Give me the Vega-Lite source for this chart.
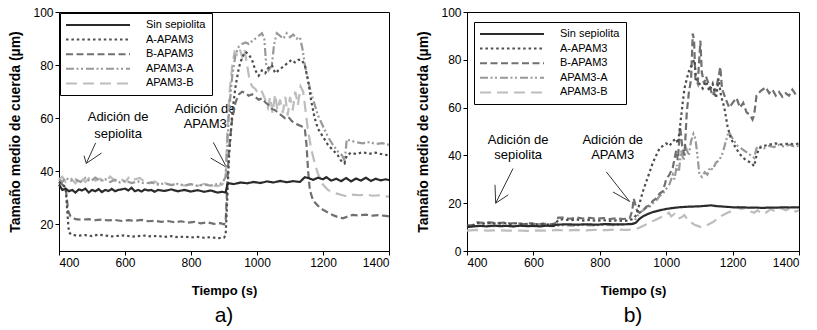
{
"$schema":"https://vega.github.io/schema/vega-lite/v6.json",
"padding":{"left":8,"top":5,"right":0,"bottom":0},
"spacing":22,
"datasets":{
"a":[
{"s":"APAM3-B","t":400,"v":37},{"s":"APAM3-B","t":410,"v":38},{"s":"APAM3-B","t":420,"v":36},{"s":"APAM3-B","t":435,"v":37.5},{"s":"APAM3-B","t":450,"v":35.5},{"s":"APAM3-B","t":465,"v":37.8},{"s":"APAM3-B","t":480,"v":36},{"s":"APAM3-B","t":495,"v":38},{"s":"APAM3-B","t":510,"v":36.5},{"s":"APAM3-B","t":525,"v":37.2},{"s":"APAM3-B","t":540,"v":36},{"s":"APAM3-B","t":555,"v":38},{"s":"APAM3-B","t":570,"v":36.4},{"s":"APAM3-B","t":585,"v":37.5},{"s":"APAM3-B","t":600,"v":36},{"s":"APAM3-B","t":615,"v":38.2},{"s":"APAM3-B","t":630,"v":37},{"s":"APAM3-B","t":645,"v":37.5},{"s":"APAM3-B","t":660,"v":36},{"s":"APAM3-B","t":675,"v":35.5},{"s":"APAM3-B","t":690,"v":36.2},{"s":"APAM3-B","t":705,"v":35},{"s":"APAM3-B","t":720,"v":35.6},{"s":"APAM3-B","t":740,"v":34.8},{"s":"APAM3-B","t":760,"v":35.4},{"s":"APAM3-B","t":780,"v":34.6},{"s":"APAM3-B","t":800,"v":35.2},{"s":"APAM3-B","t":820,"v":34.5},{"s":"APAM3-B","t":840,"v":35.3},{"s":"APAM3-B","t":860,"v":34.8},{"s":"APAM3-B","t":880,"v":34.4},{"s":"APAM3-B","t":895,"v":35},{"s":"APAM3-B","t":905,"v":37},{"s":"APAM3-B","t":910,"v":55},{"s":"APAM3-B","t":917,"v":70},{"s":"APAM3-B","t":925,"v":80},{"s":"APAM3-B","t":932,"v":85},{"s":"APAM3-B","t":940,"v":84},{"s":"APAM3-B","t":948,"v":86},{"s":"APAM3-B","t":955,"v":83},{"s":"APAM3-B","t":962,"v":86},{"s":"APAM3-B","t":970,"v":80},{"s":"APAM3-B","t":978,"v":74},{"s":"APAM3-B","t":985,"v":72},{"s":"APAM3-B","t":995,"v":71},{"s":"APAM3-B","t":1005,"v":69},{"s":"APAM3-B","t":1015,"v":70},{"s":"APAM3-B","t":1025,"v":67},{"s":"APAM3-B","t":1033,"v":64},{"s":"APAM3-B","t":1040,"v":68},{"s":"APAM3-B","t":1047,"v":62},{"s":"APAM3-B","t":1055,"v":69},{"s":"APAM3-B","t":1062,"v":63},{"s":"APAM3-B","t":1070,"v":67},{"s":"APAM3-B","t":1078,"v":62},{"s":"APAM3-B","t":1086,"v":68},{"s":"APAM3-B","t":1093,"v":61},{"s":"APAM3-B","t":1100,"v":68},{"s":"APAM3-B","t":1108,"v":63},{"s":"APAM3-B","t":1116,"v":70},{"s":"APAM3-B","t":1124,"v":65},{"s":"APAM3-B","t":1132,"v":72},{"s":"APAM3-B","t":1140,"v":70},{"s":"APAM3-B","t":1148,"v":62},{"s":"APAM3-B","t":1155,"v":55},{"s":"APAM3-B","t":1165,"v":48},{"s":"APAM3-B","t":1175,"v":43},{"s":"APAM3-B","t":1185,"v":39},{"s":"APAM3-B","t":1200,"v":35},{"s":"APAM3-B","t":1215,"v":33},{"s":"APAM3-B","t":1230,"v":32},{"s":"APAM3-B","t":1245,"v":31.5},{"s":"APAM3-B","t":1260,"v":31},{"s":"APAM3-B","t":1275,"v":30.5},{"s":"APAM3-B","t":1290,"v":31.2},{"s":"APAM3-B","t":1310,"v":31},{"s":"APAM3-B","t":1330,"v":31.3},{"s":"APAM3-B","t":1350,"v":30.8},{"s":"APAM3-B","t":1370,"v":31},{"s":"APAM3-B","t":1390,"v":30.6},{"s":"APAM3-B","t":1400,"v":30.5},
{"s":"APAM3-A","t":400,"v":37},{"s":"APAM3-A","t":410,"v":36},{"s":"APAM3-A","t":420,"v":37.5},{"s":"APAM3-A","t":435,"v":36.5},{"s":"APAM3-A","t":450,"v":37},{"s":"APAM3-A","t":465,"v":36},{"s":"APAM3-A","t":480,"v":37.5},{"s":"APAM3-A","t":495,"v":36.2},{"s":"APAM3-A","t":510,"v":37.6},{"s":"APAM3-A","t":525,"v":36.4},{"s":"APAM3-A","t":540,"v":37},{"s":"APAM3-A","t":555,"v":36},{"s":"APAM3-A","t":570,"v":36.8},{"s":"APAM3-A","t":585,"v":35.8},{"s":"APAM3-A","t":600,"v":36.5},{"s":"APAM3-A","t":620,"v":35.6},{"s":"APAM3-A","t":640,"v":36.2},{"s":"APAM3-A","t":660,"v":35.4},{"s":"APAM3-A","t":680,"v":35.8},{"s":"APAM3-A","t":700,"v":35},{"s":"APAM3-A","t":720,"v":35.5},{"s":"APAM3-A","t":740,"v":34.8},{"s":"APAM3-A","t":760,"v":35.3},{"s":"APAM3-A","t":780,"v":34.6},{"s":"APAM3-A","t":800,"v":35.2},{"s":"APAM3-A","t":820,"v":34.5},{"s":"APAM3-A","t":840,"v":35},{"s":"APAM3-A","t":860,"v":34.6},{"s":"APAM3-A","t":880,"v":35.2},{"s":"APAM3-A","t":895,"v":35.5},{"s":"APAM3-A","t":905,"v":38},{"s":"APAM3-A","t":910,"v":50},{"s":"APAM3-A","t":915,"v":62},{"s":"APAM3-A","t":925,"v":76},{"s":"APAM3-A","t":935,"v":84},{"s":"APAM3-A","t":945,"v":87},{"s":"APAM3-A","t":955,"v":88},{"s":"APAM3-A","t":965,"v":88.5},{"s":"APAM3-A","t":975,"v":88},{"s":"APAM3-A","t":985,"v":89},{"s":"APAM3-A","t":995,"v":90},{"s":"APAM3-A","t":1005,"v":91},{"s":"APAM3-A","t":1015,"v":92},{"s":"APAM3-A","t":1022,"v":90},{"s":"APAM3-A","t":1028,"v":80},{"s":"APAM3-A","t":1035,"v":78},{"s":"APAM3-A","t":1045,"v":80},{"s":"APAM3-A","t":1052,"v":88},{"s":"APAM3-A","t":1060,"v":92},{"s":"APAM3-A","t":1070,"v":91},{"s":"APAM3-A","t":1080,"v":90},{"s":"APAM3-A","t":1090,"v":92},{"s":"APAM3-A","t":1100,"v":90.5},{"s":"APAM3-A","t":1110,"v":91.5},{"s":"APAM3-A","t":1120,"v":90},{"s":"APAM3-A","t":1130,"v":90.5},{"s":"APAM3-A","t":1138,"v":86},{"s":"APAM3-A","t":1145,"v":80},{"s":"APAM3-A","t":1155,"v":74},{"s":"APAM3-A","t":1165,"v":69},{"s":"APAM3-A","t":1175,"v":65},{"s":"APAM3-A","t":1185,"v":61},{"s":"APAM3-A","t":1200,"v":57},{"s":"APAM3-A","t":1215,"v":53},{"s":"APAM3-A","t":1230,"v":50},{"s":"APAM3-A","t":1245,"v":47.5},{"s":"APAM3-A","t":1258,"v":46},{"s":"APAM3-A","t":1266,"v":44},{"s":"APAM3-A","t":1272,"v":52},{"s":"APAM3-A","t":1285,"v":51.5},{"s":"APAM3-A","t":1300,"v":51},{"s":"APAM3-A","t":1320,"v":50.5},{"s":"APAM3-A","t":1340,"v":51},{"s":"APAM3-A","t":1360,"v":50.3},{"s":"APAM3-A","t":1380,"v":50.6},{"s":"APAM3-A","t":1400,"v":50},
{"s":"B-APAM3","t":400,"v":36},{"s":"B-APAM3","t":410,"v":35},{"s":"B-APAM3","t":420,"v":34},{"s":"B-APAM3","t":428,"v":25},{"s":"B-APAM3","t":435,"v":23},{"s":"B-APAM3","t":450,"v":22},{"s":"B-APAM3","t":470,"v":21.8},{"s":"B-APAM3","t":490,"v":22},{"s":"B-APAM3","t":510,"v":21.6},{"s":"B-APAM3","t":530,"v":21.8},{"s":"B-APAM3","t":550,"v":21.5},{"s":"B-APAM3","t":570,"v":21.7},{"s":"B-APAM3","t":590,"v":21.3},{"s":"B-APAM3","t":610,"v":21.6},{"s":"B-APAM3","t":630,"v":21.4},{"s":"B-APAM3","t":650,"v":21.7},{"s":"B-APAM3","t":670,"v":21.2},{"s":"B-APAM3","t":690,"v":21.4},{"s":"B-APAM3","t":710,"v":21},{"s":"B-APAM3","t":730,"v":21.3},{"s":"B-APAM3","t":750,"v":20.8},{"s":"B-APAM3","t":770,"v":21.2},{"s":"B-APAM3","t":790,"v":20.7},{"s":"B-APAM3","t":810,"v":21},{"s":"B-APAM3","t":830,"v":20.4},{"s":"B-APAM3","t":850,"v":20.8},{"s":"B-APAM3","t":870,"v":20.2},{"s":"B-APAM3","t":890,"v":20.5},{"s":"B-APAM3","t":900,"v":20},{"s":"B-APAM3","t":905,"v":21},{"s":"B-APAM3","t":910,"v":35},{"s":"B-APAM3","t":915,"v":48},{"s":"B-APAM3","t":925,"v":60},{"s":"B-APAM3","t":935,"v":66},{"s":"B-APAM3","t":945,"v":69},{"s":"B-APAM3","t":955,"v":70},{"s":"B-APAM3","t":965,"v":69.5},{"s":"B-APAM3","t":975,"v":68.5},{"s":"B-APAM3","t":985,"v":69},{"s":"B-APAM3","t":995,"v":68},{"s":"B-APAM3","t":1005,"v":67},{"s":"B-APAM3","t":1015,"v":67.5},{"s":"B-APAM3","t":1025,"v":66},{"s":"B-APAM3","t":1035,"v":65},{"s":"B-APAM3","t":1045,"v":63.5},{"s":"B-APAM3","t":1055,"v":63},{"s":"B-APAM3","t":1065,"v":62},{"s":"B-APAM3","t":1075,"v":61},{"s":"B-APAM3","t":1085,"v":60},{"s":"B-APAM3","t":1095,"v":60.5},{"s":"B-APAM3","t":1105,"v":59},{"s":"B-APAM3","t":1115,"v":58},{"s":"B-APAM3","t":1125,"v":57.5},{"s":"B-APAM3","t":1135,"v":57},{"s":"B-APAM3","t":1145,"v":56},{"s":"B-APAM3","t":1150,"v":50},{"s":"B-APAM3","t":1155,"v":40},{"s":"B-APAM3","t":1160,"v":33},{"s":"B-APAM3","t":1170,"v":29},{"s":"B-APAM3","t":1185,"v":27},{"s":"B-APAM3","t":1200,"v":25.5},{"s":"B-APAM3","t":1215,"v":24.5},{"s":"B-APAM3","t":1230,"v":23.5},{"s":"B-APAM3","t":1245,"v":22.8},{"s":"B-APAM3","t":1260,"v":22.3},{"s":"B-APAM3","t":1275,"v":23},{"s":"B-APAM3","t":1290,"v":23.6},{"s":"B-APAM3","t":1310,"v":23.4},{"s":"B-APAM3","t":1330,"v":23.7},{"s":"B-APAM3","t":1350,"v":23.3},{"s":"B-APAM3","t":1370,"v":23.5},{"s":"B-APAM3","t":1390,"v":23.2},{"s":"B-APAM3","t":1400,"v":23},
{"s":"A-APAM3","t":400,"v":36},{"s":"A-APAM3","t":410,"v":35},{"s":"A-APAM3","t":420,"v":34},{"s":"A-APAM3","t":425,"v":25},{"s":"A-APAM3","t":430,"v":17},{"s":"A-APAM3","t":440,"v":16},{"s":"A-APAM3","t":460,"v":15.8},{"s":"A-APAM3","t":480,"v":16},{"s":"A-APAM3","t":500,"v":15.6},{"s":"A-APAM3","t":520,"v":16.2},{"s":"A-APAM3","t":540,"v":15.8},{"s":"A-APAM3","t":560,"v":15.5},{"s":"A-APAM3","t":580,"v":15.7},{"s":"A-APAM3","t":600,"v":15.9},{"s":"A-APAM3","t":620,"v":15.4},{"s":"A-APAM3","t":640,"v":15.6},{"s":"A-APAM3","t":660,"v":15.8},{"s":"A-APAM3","t":680,"v":15.5},{"s":"A-APAM3","t":700,"v":15.7},{"s":"A-APAM3","t":720,"v":15.3},{"s":"A-APAM3","t":740,"v":15.6},{"s":"A-APAM3","t":760,"v":15.2},{"s":"A-APAM3","t":780,"v":15.4},{"s":"A-APAM3","t":800,"v":15.1},{"s":"A-APAM3","t":820,"v":15.3},{"s":"A-APAM3","t":840,"v":15},{"s":"A-APAM3","t":860,"v":15.2},{"s":"A-APAM3","t":880,"v":14.8},{"s":"A-APAM3","t":900,"v":15},{"s":"A-APAM3","t":905,"v":16},{"s":"A-APAM3","t":910,"v":30},{"s":"A-APAM3","t":915,"v":45},{"s":"A-APAM3","t":925,"v":62},{"s":"A-APAM3","t":935,"v":72},{"s":"A-APAM3","t":945,"v":79},{"s":"A-APAM3","t":955,"v":83},{"s":"A-APAM3","t":965,"v":85},{"s":"A-APAM3","t":975,"v":84},{"s":"A-APAM3","t":985,"v":82},{"s":"A-APAM3","t":995,"v":78},{"s":"A-APAM3","t":1005,"v":76},{"s":"A-APAM3","t":1015,"v":78},{"s":"A-APAM3","t":1025,"v":77},{"s":"A-APAM3","t":1035,"v":79},{"s":"A-APAM3","t":1045,"v":80},{"s":"A-APAM3","t":1055,"v":77},{"s":"A-APAM3","t":1065,"v":78},{"s":"A-APAM3","t":1075,"v":79},{"s":"A-APAM3","t":1085,"v":80},{"s":"A-APAM3","t":1095,"v":81},{"s":"A-APAM3","t":1105,"v":82},{"s":"A-APAM3","t":1115,"v":81},{"s":"A-APAM3","t":1125,"v":82},{"s":"A-APAM3","t":1135,"v":82},{"s":"A-APAM3","t":1145,"v":80},{"s":"A-APAM3","t":1155,"v":74},{"s":"A-APAM3","t":1165,"v":66},{"s":"A-APAM3","t":1175,"v":60},{"s":"A-APAM3","t":1185,"v":56},{"s":"A-APAM3","t":1200,"v":53},{"s":"A-APAM3","t":1215,"v":50},{"s":"A-APAM3","t":1230,"v":48},{"s":"A-APAM3","t":1245,"v":46},{"s":"A-APAM3","t":1255,"v":44},{"s":"A-APAM3","t":1265,"v":43},{"s":"A-APAM3","t":1272,"v":46},{"s":"A-APAM3","t":1285,"v":47},{"s":"A-APAM3","t":1300,"v":46.5},{"s":"A-APAM3","t":1320,"v":47.2},{"s":"A-APAM3","t":1340,"v":46.6},{"s":"A-APAM3","t":1360,"v":47},{"s":"A-APAM3","t":1380,"v":46.4},{"s":"A-APAM3","t":1400,"v":46},
{"s":"Sin sepiolita","t":400,"v":35},{"s":"Sin sepiolita","t":405,"v":34},{"s":"Sin sepiolita","t":410,"v":33},{"s":"Sin sepiolita","t":420,"v":33.5},{"s":"Sin sepiolita","t":430,"v":32.5},{"s":"Sin sepiolita","t":440,"v":33},{"s":"Sin sepiolita","t":450,"v":32},{"s":"Sin sepiolita","t":460,"v":33.2},{"s":"Sin sepiolita","t":470,"v":32.8},{"s":"Sin sepiolita","t":480,"v":33.5},{"s":"Sin sepiolita","t":490,"v":32},{"s":"Sin sepiolita","t":500,"v":33},{"s":"Sin sepiolita","t":510,"v":32.5},{"s":"Sin sepiolita","t":520,"v":33.3},{"s":"Sin sepiolita","t":530,"v":32.2},{"s":"Sin sepiolita","t":540,"v":33},{"s":"Sin sepiolita","t":550,"v":32.6},{"s":"Sin sepiolita","t":560,"v":33.4},{"s":"Sin sepiolita","t":570,"v":32.5},{"s":"Sin sepiolita","t":580,"v":33},{"s":"Sin sepiolita","t":590,"v":33.2},{"s":"Sin sepiolita","t":600,"v":33.5},{"s":"Sin sepiolita","t":610,"v":32.8},{"s":"Sin sepiolita","t":620,"v":33.8},{"s":"Sin sepiolita","t":630,"v":32.5},{"s":"Sin sepiolita","t":640,"v":33},{"s":"Sin sepiolita","t":650,"v":32.4},{"s":"Sin sepiolita","t":660,"v":33.2},{"s":"Sin sepiolita","t":670,"v":32.8},{"s":"Sin sepiolita","t":680,"v":33},{"s":"Sin sepiolita","t":690,"v":32.3},{"s":"Sin sepiolita","t":700,"v":33},{"s":"Sin sepiolita","t":720,"v":32.6},{"s":"Sin sepiolita","t":740,"v":33.2},{"s":"Sin sepiolita","t":760,"v":32.5},{"s":"Sin sepiolita","t":780,"v":33},{"s":"Sin sepiolita","t":800,"v":32.4},{"s":"Sin sepiolita","t":820,"v":32.9},{"s":"Sin sepiolita","t":840,"v":32.3},{"s":"Sin sepiolita","t":860,"v":32.8},{"s":"Sin sepiolita","t":880,"v":32},{"s":"Sin sepiolita","t":895,"v":32.3},{"s":"Sin sepiolita","t":905,"v":32},{"s":"Sin sepiolita","t":910,"v":35},{"s":"Sin sepiolita","t":915,"v":35.5},{"s":"Sin sepiolita","t":930,"v":35.2},{"s":"Sin sepiolita","t":950,"v":35.8},{"s":"Sin sepiolita","t":970,"v":35.5},{"s":"Sin sepiolita","t":990,"v":36},{"s":"Sin sepiolita","t":1010,"v":35.6},{"s":"Sin sepiolita","t":1030,"v":36.2},{"s":"Sin sepiolita","t":1050,"v":35.8},{"s":"Sin sepiolita","t":1070,"v":36.4},{"s":"Sin sepiolita","t":1090,"v":35.9},{"s":"Sin sepiolita","t":1110,"v":36.3},{"s":"Sin sepiolita","t":1130,"v":36},{"s":"Sin sepiolita","t":1145,"v":37.8},{"s":"Sin sepiolita","t":1155,"v":37.5},{"s":"Sin sepiolita","t":1170,"v":36.8},{"s":"Sin sepiolita","t":1185,"v":37.6},{"s":"Sin sepiolita","t":1200,"v":37},{"s":"Sin sepiolita","t":1210,"v":37.8},{"s":"Sin sepiolita","t":1225,"v":36.5},{"s":"Sin sepiolita","t":1240,"v":37.2},{"s":"Sin sepiolita","t":1255,"v":36.3},{"s":"Sin sepiolita","t":1270,"v":37.5},{"s":"Sin sepiolita","t":1285,"v":36.2},{"s":"Sin sepiolita","t":1300,"v":37.3},{"s":"Sin sepiolita","t":1315,"v":36.5},{"s":"Sin sepiolita","t":1330,"v":37.6},{"s":"Sin sepiolita","t":1345,"v":36.4},{"s":"Sin sepiolita","t":1360,"v":37.2},{"s":"Sin sepiolita","t":1375,"v":36.6},{"s":"Sin sepiolita","t":1390,"v":37},{"s":"Sin sepiolita","t":1400,"v":36.7}
],
"b":[
{"s":"APAM3-B","t":400,"v":8.5},{"s":"APAM3-B","t":430,"v":8.8},{"s":"APAM3-B","t":460,"v":8.5},{"s":"APAM3-B","t":490,"v":8.7},{"s":"APAM3-B","t":520,"v":8.5},{"s":"APAM3-B","t":550,"v":8.6},{"s":"APAM3-B","t":580,"v":8.4},{"s":"APAM3-B","t":610,"v":8.6},{"s":"APAM3-B","t":640,"v":8.5},{"s":"APAM3-B","t":670,"v":8.8},{"s":"APAM3-B","t":700,"v":8.6},{"s":"APAM3-B","t":730,"v":8.8},{"s":"APAM3-B","t":760,"v":8.6},{"s":"APAM3-B","t":790,"v":8.9},{"s":"APAM3-B","t":820,"v":8.7},{"s":"APAM3-B","t":850,"v":9},{"s":"APAM3-B","t":880,"v":8.8},{"s":"APAM3-B","t":900,"v":9},{"s":"APAM3-B","t":915,"v":9.5},{"s":"APAM3-B","t":930,"v":10.5},{"s":"APAM3-B","t":945,"v":11.5},{"s":"APAM3-B","t":960,"v":12.5},{"s":"APAM3-B","t":975,"v":13.5},{"s":"APAM3-B","t":990,"v":14.5},{"s":"APAM3-B","t":1000,"v":15},{"s":"APAM3-B","t":1008,"v":16},{"s":"APAM3-B","t":1015,"v":14.5},{"s":"APAM3-B","t":1025,"v":15.5},{"s":"APAM3-B","t":1035,"v":13.5},{"s":"APAM3-B","t":1045,"v":14},{"s":"APAM3-B","t":1055,"v":15},{"s":"APAM3-B","t":1065,"v":13},{"s":"APAM3-B","t":1075,"v":12},{"s":"APAM3-B","t":1085,"v":11},{"s":"APAM3-B","t":1095,"v":10.5},{"s":"APAM3-B","t":1105,"v":10},{"s":"APAM3-B","t":1115,"v":10.5},{"s":"APAM3-B","t":1125,"v":11},{"s":"APAM3-B","t":1140,"v":12},{"s":"APAM3-B","t":1155,"v":13.5},{"s":"APAM3-B","t":1170,"v":15},{"s":"APAM3-B","t":1185,"v":16},{"s":"APAM3-B","t":1200,"v":17},{"s":"APAM3-B","t":1215,"v":18.5},{"s":"APAM3-B","t":1225,"v":17.5},{"s":"APAM3-B","t":1240,"v":18},{"s":"APAM3-B","t":1255,"v":16.5},{"s":"APAM3-B","t":1265,"v":16},{"s":"APAM3-B","t":1275,"v":17},{"s":"APAM3-B","t":1290,"v":15.5},{"s":"APAM3-B","t":1300,"v":16},{"s":"APAM3-B","t":1315,"v":17.5},{"s":"APAM3-B","t":1330,"v":16.5},{"s":"APAM3-B","t":1345,"v":18},{"s":"APAM3-B","t":1360,"v":17},{"s":"APAM3-B","t":1375,"v":18},{"s":"APAM3-B","t":1390,"v":16.5},{"s":"APAM3-B","t":1400,"v":17},
{"s":"APAM3-A","t":400,"v":10},{"s":"APAM3-A","t":420,"v":10.5},{"s":"APAM3-A","t":450,"v":10.8},{"s":"APAM3-A","t":480,"v":10.4},{"s":"APAM3-A","t":510,"v":10.7},{"s":"APAM3-A","t":540,"v":10.3},{"s":"APAM3-A","t":570,"v":10.6},{"s":"APAM3-A","t":600,"v":10.4},{"s":"APAM3-A","t":630,"v":10.6},{"s":"APAM3-A","t":660,"v":10.4},{"s":"APAM3-A","t":690,"v":10.8},{"s":"APAM3-A","t":720,"v":10.6},{"s":"APAM3-A","t":750,"v":10.9},{"s":"APAM3-A","t":780,"v":10.7},{"s":"APAM3-A","t":810,"v":11},{"s":"APAM3-A","t":840,"v":10.8},{"s":"APAM3-A","t":870,"v":11.1},{"s":"APAM3-A","t":900,"v":11.5},{"s":"APAM3-A","t":910,"v":14},{"s":"APAM3-A","t":920,"v":16},{"s":"APAM3-A","t":930,"v":17},{"s":"APAM3-A","t":940,"v":18},{"s":"APAM3-A","t":950,"v":18.5},{"s":"APAM3-A","t":960,"v":20},{"s":"APAM3-A","t":970,"v":21},{"s":"APAM3-A","t":980,"v":23},{"s":"APAM3-A","t":990,"v":24},{"s":"APAM3-A","t":1000,"v":26},{"s":"APAM3-A","t":1010,"v":28},{"s":"APAM3-A","t":1020,"v":32},{"s":"APAM3-A","t":1025,"v":30},{"s":"APAM3-A","t":1032,"v":36},{"s":"APAM3-A","t":1038,"v":33},{"s":"APAM3-A","t":1045,"v":42},{"s":"APAM3-A","t":1052,"v":38},{"s":"APAM3-A","t":1060,"v":43},{"s":"APAM3-A","t":1068,"v":40},{"s":"APAM3-A","t":1075,"v":46},{"s":"APAM3-A","t":1082,"v":49},{"s":"APAM3-A","t":1088,"v":47},{"s":"APAM3-A","t":1094,"v":40},{"s":"APAM3-A","t":1100,"v":32},{"s":"APAM3-A","t":1108,"v":31},{"s":"APAM3-A","t":1116,"v":33},{"s":"APAM3-A","t":1124,"v":32},{"s":"APAM3-A","t":1132,"v":35},{"s":"APAM3-A","t":1140,"v":34},{"s":"APAM3-A","t":1150,"v":37},{"s":"APAM3-A","t":1160,"v":38},{"s":"APAM3-A","t":1170,"v":41},{"s":"APAM3-A","t":1180,"v":46},{"s":"APAM3-A","t":1188,"v":50},{"s":"APAM3-A","t":1196,"v":48},{"s":"APAM3-A","t":1205,"v":46},{"s":"APAM3-A","t":1215,"v":44},{"s":"APAM3-A","t":1225,"v":43},{"s":"APAM3-A","t":1235,"v":42},{"s":"APAM3-A","t":1245,"v":41},{"s":"APAM3-A","t":1255,"v":40},{"s":"APAM3-A","t":1265,"v":39},{"s":"APAM3-A","t":1272,"v":43},{"s":"APAM3-A","t":1280,"v":44},{"s":"APAM3-A","t":1295,"v":43},{"s":"APAM3-A","t":1310,"v":44},{"s":"APAM3-A","t":1325,"v":43.5},{"s":"APAM3-A","t":1340,"v":44.5},{"s":"APAM3-A","t":1355,"v":43.6},{"s":"APAM3-A","t":1370,"v":44.5},{"s":"APAM3-A","t":1385,"v":43.8},{"s":"APAM3-A","t":1400,"v":44},
{"s":"B-APAM3","t":400,"v":10.5},{"s":"B-APAM3","t":420,"v":11},{"s":"B-APAM3","t":430,"v":12},{"s":"B-APAM3","t":450,"v":11.8},{"s":"B-APAM3","t":470,"v":12},{"s":"B-APAM3","t":490,"v":11.6},{"s":"B-APAM3","t":510,"v":11.9},{"s":"B-APAM3","t":530,"v":11.5},{"s":"B-APAM3","t":550,"v":11.7},{"s":"B-APAM3","t":570,"v":11.3},{"s":"B-APAM3","t":590,"v":11.6},{"s":"B-APAM3","t":610,"v":11.2},{"s":"B-APAM3","t":630,"v":11.4},{"s":"B-APAM3","t":650,"v":11.2},{"s":"B-APAM3","t":665,"v":11.5},{"s":"B-APAM3","t":675,"v":14},{"s":"B-APAM3","t":690,"v":14},{"s":"B-APAM3","t":710,"v":13.5},{"s":"B-APAM3","t":730,"v":14},{"s":"B-APAM3","t":750,"v":13.6},{"s":"B-APAM3","t":770,"v":13.9},{"s":"B-APAM3","t":790,"v":13.5},{"s":"B-APAM3","t":810,"v":13.8},{"s":"B-APAM3","t":830,"v":13.4},{"s":"B-APAM3","t":850,"v":13.7},{"s":"B-APAM3","t":870,"v":13.4},{"s":"B-APAM3","t":890,"v":13.6},{"s":"B-APAM3","t":898,"v":17},{"s":"B-APAM3","t":902,"v":22},{"s":"B-APAM3","t":906,"v":20},{"s":"B-APAM3","t":912,"v":17},{"s":"B-APAM3","t":920,"v":16},{"s":"B-APAM3","t":930,"v":17},{"s":"B-APAM3","t":940,"v":18.5},{"s":"B-APAM3","t":950,"v":19},{"s":"B-APAM3","t":960,"v":21},{"s":"B-APAM3","t":970,"v":22},{"s":"B-APAM3","t":980,"v":24},{"s":"B-APAM3","t":990,"v":25},{"s":"B-APAM3","t":1000,"v":30},{"s":"B-APAM3","t":1010,"v":32},{"s":"B-APAM3","t":1020,"v":35},{"s":"B-APAM3","t":1030,"v":42},{"s":"B-APAM3","t":1035,"v":38},{"s":"B-APAM3","t":1042,"v":52},{"s":"B-APAM3","t":1048,"v":44},{"s":"B-APAM3","t":1055,"v":40},{"s":"B-APAM3","t":1062,"v":58},{"s":"B-APAM3","t":1068,"v":66},{"s":"B-APAM3","t":1075,"v":72},{"s":"B-APAM3","t":1080,"v":91},{"s":"B-APAM3","t":1084,"v":88},{"s":"B-APAM3","t":1088,"v":72},{"s":"B-APAM3","t":1095,"v":70},{"s":"B-APAM3","t":1103,"v":88},{"s":"B-APAM3","t":1107,"v":75},{"s":"B-APAM3","t":1114,"v":70},{"s":"B-APAM3","t":1120,"v":73},{"s":"B-APAM3","t":1130,"v":69},{"s":"B-APAM3","t":1140,"v":65},{"s":"B-APAM3","t":1150,"v":68},{"s":"B-APAM3","t":1158,"v":73},{"s":"B-APAM3","t":1163,"v":77},{"s":"B-APAM3","t":1168,"v":68},{"s":"B-APAM3","t":1178,"v":64},{"s":"B-APAM3","t":1190,"v":60},{"s":"B-APAM3","t":1200,"v":62},{"s":"B-APAM3","t":1212,"v":64},{"s":"B-APAM3","t":1222,"v":60},{"s":"B-APAM3","t":1232,"v":62},{"s":"B-APAM3","t":1242,"v":58},{"s":"B-APAM3","t":1252,"v":57},{"s":"B-APAM3","t":1260,"v":55},{"s":"B-APAM3","t":1265,"v":57},{"s":"B-APAM3","t":1272,"v":65},{"s":"B-APAM3","t":1285,"v":67},{"s":"B-APAM3","t":1300,"v":68.5},{"s":"B-APAM3","t":1310,"v":66},{"s":"B-APAM3","t":1320,"v":67.5},{"s":"B-APAM3","t":1330,"v":65},{"s":"B-APAM3","t":1340,"v":66.5},{"s":"B-APAM3","t":1350,"v":64.5},{"s":"B-APAM3","t":1360,"v":66},{"s":"B-APAM3","t":1370,"v":65},{"s":"B-APAM3","t":1380,"v":67.5},{"s":"B-APAM3","t":1390,"v":65.5},{"s":"B-APAM3","t":1400,"v":65.5},
{"s":"A-APAM3","t":400,"v":10.5},{"s":"A-APAM3","t":420,"v":10.8},{"s":"A-APAM3","t":430,"v":11.8},{"s":"A-APAM3","t":450,"v":11.5},{"s":"A-APAM3","t":470,"v":11.8},{"s":"A-APAM3","t":490,"v":11.4},{"s":"A-APAM3","t":510,"v":11.7},{"s":"A-APAM3","t":530,"v":11.3},{"s":"A-APAM3","t":550,"v":11.6},{"s":"A-APAM3","t":570,"v":11.2},{"s":"A-APAM3","t":590,"v":11.5},{"s":"A-APAM3","t":610,"v":11.2},{"s":"A-APAM3","t":630,"v":11.4},{"s":"A-APAM3","t":650,"v":11},{"s":"A-APAM3","t":665,"v":11.2},{"s":"A-APAM3","t":675,"v":13},{"s":"A-APAM3","t":690,"v":13.3},{"s":"A-APAM3","t":710,"v":12.8},{"s":"A-APAM3","t":730,"v":13.2},{"s":"A-APAM3","t":750,"v":12.7},{"s":"A-APAM3","t":770,"v":13},{"s":"A-APAM3","t":790,"v":12.6},{"s":"A-APAM3","t":810,"v":12.9},{"s":"A-APAM3","t":830,"v":12.6},{"s":"A-APAM3","t":850,"v":12.8},{"s":"A-APAM3","t":870,"v":12.5},{"s":"A-APAM3","t":890,"v":12.8},{"s":"A-APAM3","t":900,"v":13.5},{"s":"A-APAM3","t":910,"v":15},{"s":"A-APAM3","t":920,"v":20},{"s":"A-APAM3","t":930,"v":25},{"s":"A-APAM3","t":940,"v":29},{"s":"A-APAM3","t":950,"v":33},{"s":"A-APAM3","t":960,"v":37},{"s":"A-APAM3","t":970,"v":40},{"s":"A-APAM3","t":980,"v":43},{"s":"A-APAM3","t":990,"v":44},{"s":"A-APAM3","t":1000,"v":45},{"s":"A-APAM3","t":1010,"v":44},{"s":"A-APAM3","t":1020,"v":46},{"s":"A-APAM3","t":1030,"v":47},{"s":"A-APAM3","t":1035,"v":45},{"s":"A-APAM3","t":1040,"v":50},{"s":"A-APAM3","t":1048,"v":60},{"s":"A-APAM3","t":1055,"v":68},{"s":"A-APAM3","t":1062,"v":72},{"s":"A-APAM3","t":1070,"v":76},{"s":"A-APAM3","t":1078,"v":78},{"s":"A-APAM3","t":1085,"v":80},{"s":"A-APAM3","t":1090,"v":72},{"s":"A-APAM3","t":1100,"v":70},{"s":"A-APAM3","t":1110,"v":68},{"s":"A-APAM3","t":1120,"v":71},{"s":"A-APAM3","t":1130,"v":67},{"s":"A-APAM3","t":1140,"v":70},{"s":"A-APAM3","t":1150,"v":64},{"s":"A-APAM3","t":1158,"v":72},{"s":"A-APAM3","t":1165,"v":65},{"s":"A-APAM3","t":1175,"v":60},{"s":"A-APAM3","t":1185,"v":52},{"s":"A-APAM3","t":1195,"v":47},{"s":"A-APAM3","t":1210,"v":43},{"s":"A-APAM3","t":1225,"v":40},{"s":"A-APAM3","t":1240,"v":38},{"s":"A-APAM3","t":1255,"v":37},{"s":"A-APAM3","t":1265,"v":35.5},{"s":"A-APAM3","t":1272,"v":40},{"s":"A-APAM3","t":1280,"v":43},{"s":"A-APAM3","t":1295,"v":44},{"s":"A-APAM3","t":1310,"v":44.5},{"s":"A-APAM3","t":1330,"v":45},{"s":"A-APAM3","t":1350,"v":44.5},{"s":"A-APAM3","t":1370,"v":45},{"s":"A-APAM3","t":1385,"v":44.6},{"s":"A-APAM3","t":1400,"v":45},
{"s":"Sin sepiolita","t":400,"v":10},{"s":"Sin sepiolita","t":420,"v":10.3},{"s":"Sin sepiolita","t":440,"v":10.5},{"s":"Sin sepiolita","t":460,"v":10.3},{"s":"Sin sepiolita","t":480,"v":10.6},{"s":"Sin sepiolita","t":500,"v":10.4},{"s":"Sin sepiolita","t":520,"v":10.5},{"s":"Sin sepiolita","t":540,"v":10.3},{"s":"Sin sepiolita","t":560,"v":10.6},{"s":"Sin sepiolita","t":580,"v":10.4},{"s":"Sin sepiolita","t":600,"v":10.5},{"s":"Sin sepiolita","t":620,"v":10.3},{"s":"Sin sepiolita","t":640,"v":10.6},{"s":"Sin sepiolita","t":660,"v":10.5},{"s":"Sin sepiolita","t":670,"v":11},{"s":"Sin sepiolita","t":700,"v":11.2},{"s":"Sin sepiolita","t":730,"v":11},{"s":"Sin sepiolita","t":760,"v":11.2},{"s":"Sin sepiolita","t":790,"v":11},{"s":"Sin sepiolita","t":820,"v":11.3},{"s":"Sin sepiolita","t":850,"v":11.1},{"s":"Sin sepiolita","t":880,"v":11.2},{"s":"Sin sepiolita","t":900,"v":11.3},{"s":"Sin sepiolita","t":910,"v":12},{"s":"Sin sepiolita","t":920,"v":13.5},{"s":"Sin sepiolita","t":930,"v":14.5},{"s":"Sin sepiolita","t":945,"v":15.5},{"s":"Sin sepiolita","t":960,"v":16.3},{"s":"Sin sepiolita","t":980,"v":17},{"s":"Sin sepiolita","t":1000,"v":17.6},{"s":"Sin sepiolita","t":1020,"v":18},{"s":"Sin sepiolita","t":1040,"v":18.3},{"s":"Sin sepiolita","t":1060,"v":18.5},{"s":"Sin sepiolita","t":1080,"v":18.6},{"s":"Sin sepiolita","t":1100,"v":18.7},{"s":"Sin sepiolita","t":1120,"v":18.9},{"s":"Sin sepiolita","t":1135,"v":19.1},{"s":"Sin sepiolita","t":1150,"v":18.8},{"s":"Sin sepiolita","t":1170,"v":18.6},{"s":"Sin sepiolita","t":1190,"v":18.4},{"s":"Sin sepiolita","t":1210,"v":18.2},{"s":"Sin sepiolita","t":1230,"v":18.3},{"s":"Sin sepiolita","t":1250,"v":18.1},{"s":"Sin sepiolita","t":1270,"v":18.2},{"s":"Sin sepiolita","t":1290,"v":18},{"s":"Sin sepiolita","t":1310,"v":18.2},{"s":"Sin sepiolita","t":1330,"v":18.1},{"s":"Sin sepiolita","t":1350,"v":18.3},{"s":"Sin sepiolita","t":1370,"v":18.2},{"s":"Sin sepiolita","t":1400,"v":18.3}
],
"arrA":[
{"t":511,"v":50.7,"t2":482.7,"v2":43},{"t":475.8,"v":45.9,"t2":482.7,"v2":43},{"t":529,"v":46.9,"t2":482.7,"v2":43},
{"t":867.6,"v":50.9,"t2":908,"v2":41.5},{"t":859.7,"v":45,"t2":908,"v2":41.5}
],
"arrB":[
{"t":538.6,"v":34.5,"t2":486.4,"v2":20},{"t":484.3,"v":27.7,"t2":486.4,"v2":20},{"t":524.4,"v":23.5,"t2":486.4,"v2":20},
{"t":819.6,"v":33.1,"t2":890,"v2":20.7},{"t":839.8,"v":24.7,"t2":890,"v2":20.7}
],
"txtA":[
{"t":579,"v":60.3,"txt":"Adición de"},{"t":579,"v":54.1,"txt":"sepiolita"},
{"t":843,"v":63.5,"txt":"Adición de"},{"t":843,"v":57.8,"txt":"APAM3"}
],
"txtB":[
{"t":554,"v":46.3,"txt":"Adición de"},{"t":554,"v":40,"txt":"sepiolita"},
{"t":839,"v":46.3,"txt":"Adición de"},{"t":839,"v":40,"txt":"APAM3"}
]
},
"config":{
"font":"Liberation Sans",
"view":{"stroke":"black","strokeWidth":1},
"axis":{"grid":false,"domainColor":"black","tickColor":"black","tickSize":4,"labelFont":"Liberation Sans","labelFontSize":12,"labelColor":"black","labelPadding":2,"titleFont":"Liberation Sans","titleFontSize":13,"titleFontWeight":"bold","titleColor":"black"},
"axisX":{"titlePadding":16,"format":"d"},
"axisY":{"titlePadding":10,"titleFontSize":14},
"legend":{"title":null,"symbolType":"M-6.4,0H6.4","symbolSize":100,"symbolStrokeWidth":2,"symbolOffset":26,"labelOffset":42,"labelFont":"Liberation Sans","labelFontSize":11,"labelColor":"black","strokeColor":"black","fillColor":"white","padding":6,"rowPadding":3.6},
"title":{"font":"Liberation Sans","fontSize":21,"fontWeight":"normal","color":"black","orient":"bottom","anchor":"middle","offset":8}
},
"resolve":{"legend":{"color":"independent","strokeDash":"independent"},"scale":{"color":"independent","strokeDash":"independent","x":"independent","y":"independent"}},
"hconcat":[
{"width":330,"height":239,"title":{"text":"a)","orient":"bottom"},
"layer":[
{"data":{"name":"arrA"},"mark":{"type":"rule","color":"#333333","strokeWidth":1},"encoding":{"x":{"field":"t","type":"quantitative"},"y":{"field":"v","type":"quantitative"},"x2":{"field":"t2"},"y2":{"field":"v2"}}},
{"data":{"name":"txtA"},"mark":{"type":"text","fontSize":13,"font":"Liberation Sans","color":"black"},"encoding":{"x":{"field":"t","type":"quantitative"},"y":{"field":"v","type":"quantitative"},"text":{"field":"txt"}}},
{"data":{"name":"a"},"mark":{"type":"line","strokeWidth":2.2},"encoding":{
"x":{"field":"t","type":"quantitative","scale":{"domain":[400,1400],"nice":false,"zero":false},"axis":{"values":[400,600,800,1000,1200,1400],"title":"Tiempo (s)"}},
"y":{"field":"v","type":"quantitative","scale":{"domain":[10,100],"nice":false,"zero":false},"axis":{"values":[20,40,60,80,100],"title":"Tamaño medio de cuerda (µm)"}},
"color":{"field":"s","type":"nominal","scale":{"domain":["Sin sepiolita","A-APAM3","B-APAM3","APAM3-A","APAM3-B"],"range":["#2b2b2b","#4d4d4d","#707070","#999999","#bdbdbd"]},"legend":{"orient":"none","legendX":1,"legendY":1}},
"strokeDash":{"field":"s","type":"nominal","scale":{"domain":["Sin sepiolita","A-APAM3","B-APAM3","APAM3-A","APAM3-B"],"range":[[1,0],[2.5,2.9],[7,3.5],[8,2.5,2,2.5,2,3],[11,6]]},"legend":{"orient":"none","legendX":1,"legendY":1}}
}}
]},
{"width":332,"height":239,"title":{"text":"b)","orient":"bottom"},
"layer":[
{"data":{"name":"arrB"},"mark":{"type":"rule","color":"#333333","strokeWidth":1},"encoding":{"x":{"field":"t","type":"quantitative"},"y":{"field":"v","type":"quantitative"},"x2":{"field":"t2"},"y2":{"field":"v2"}}},
{"data":{"name":"txtB"},"mark":{"type":"text","fontSize":13,"font":"Liberation Sans","color":"black"},"encoding":{"x":{"field":"t","type":"quantitative"},"y":{"field":"v","type":"quantitative"},"text":{"field":"txt"}}},
{"data":{"name":"b"},"mark":{"type":"line","strokeWidth":2.2},"encoding":{
"x":{"field":"t","type":"quantitative","scale":{"domain":[400,1400],"nice":false,"zero":false},"axis":{"values":[400,600,800,1000,1200,1400],"title":"Tiempo (s)"}},
"y":{"field":"v","type":"quantitative","scale":{"domain":[0,100],"nice":false},"axis":{"values":[0,20,40,60,80,100],"title":"Tamaño medio de cuerda (µm)"}},
"color":{"field":"s","type":"nominal","scale":{"domain":["Sin sepiolita","A-APAM3","B-APAM3","APAM3-A","APAM3-B"],"range":["#2b2b2b","#4d4d4d","#707070","#999999","#bdbdbd"]},"legend":{"orient":"none","legendX":7,"legendY":10}},
"strokeDash":{"field":"s","type":"nominal","scale":{"domain":["Sin sepiolita","A-APAM3","B-APAM3","APAM3-A","APAM3-B"],"range":[[1,0],[2.5,2.9],[7,3.5],[8,2.5,2,2.5,2,3],[11,6]]},"legend":{"orient":"none","legendX":7,"legendY":10}}
}}
]}
]
}
